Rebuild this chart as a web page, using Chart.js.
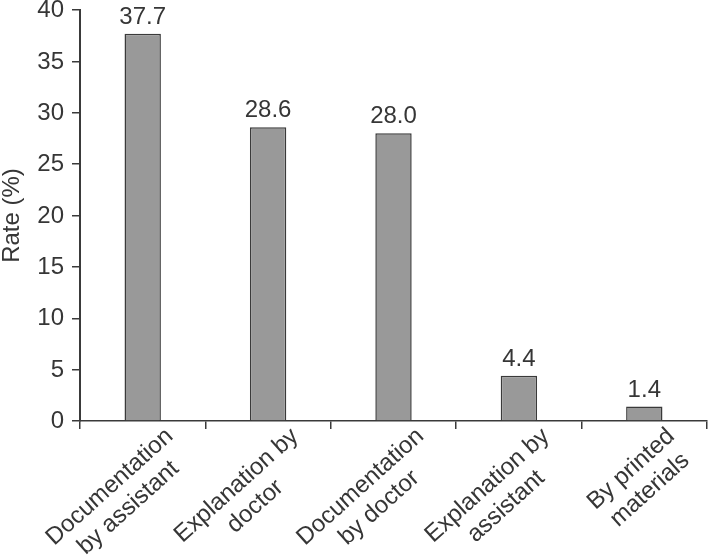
<!DOCTYPE html>
<html>
<head>
<meta charset="utf-8">
<script src="https://cdn.jsdelivr.net/npm/chart.js@4/dist/chart.umd.min.js"></script>
<style>
  html, body { margin: 0; padding: 0; background: #fff; }
  #wrap { width: 709px; height: 559px; }
</style>
</head>
<body>
<div id="wrap"><canvas id="rateChart"></canvas></div>
<script>
var categories = [
  ["Documentation", "by assistant"],
  ["Explanation by", "doctor"],
  ["Documentation", "by doctor"],
  ["Explanation by", "assistant"],
  ["By printed", "materials"]
];
var rates = [37.7, 28.6, 28.0, 4.4, 1.4];
var yTicks = [0, 5, 10, 15, 20, 25, 30, 35, 40];
var yTitle = "Rate (%)";

var textColor = "#363636";
var lineColor = "#3a3a3a";
var font = "24px 'Liberation Sans', Arial, sans-serif";
var labelAngle = 42 * Math.PI / 180;

// all text is drawn here, placed through the chart's own scales
var textLayer = {
  id: "textLayer",
  afterDraw: function (chart) {
    var c = chart.ctx;
    var xs = chart.scales.x;
    var ys = chart.scales.y;
    var area = chart.chartArea;
    c.save();
    c.font = font;
    c.fillStyle = textColor;

    // y tick labels
    c.textAlign = "right";
    c.textBaseline = "middle";
    yTicks.forEach(function (v) {
      c.fillText(String(v), ys.left - 8, ys.getPixelForValue(v) + 0.5);
    });

    // y title
    c.save();
    c.translate(12, (area.top + area.bottom) / 2);
    c.rotate(-Math.PI / 2);
    c.textAlign = "center";
    c.textBaseline = "middle";
    c.fillText(yTitle, 0, 0);
    c.restore();

    // values above bars
    var meta = chart.getDatasetMeta(0);
    c.textAlign = "center";
    c.textBaseline = "alphabetic";
    meta.data.forEach(function (bar, i) {
      c.fillText(rates[i].toFixed(1), bar.x, bar.y - 10);
    });

    // rotated category labels, lines centred on each other
    c.textBaseline = "middle";
    categories.forEach(function (lines, i) {
      var w = 0;
      lines.forEach(function (s) { w = Math.max(w, c.measureText(s).width); });
      c.save();
      c.translate(xs.getPixelForValue(i) + 27, area.bottom + 12);
      c.rotate(-labelAngle);
      lines.forEach(function (s, k) {
        c.fillText(s, -w / 2, k * 28);
      });
      c.restore();
    });
    c.restore();
  }
};

var ctx = document.getElementById("rateChart").getContext("2d");
new Chart(ctx, {
  type: "bar",
  data: {
    labels: categories,
    datasets: [
      {
        label: "Rate",
        data: rates,
        backgroundColor: "#999999",
        borderColor: "#3a3a3a",
        borderWidth: 1.5,
        barPercentage: 0.29,
        categoryPercentage: 1
      }
    ]
  },
  options: {
    responsive: true,
    maintainAspectRatio: false,
    animation: false,
    layout: { padding: { top: 10, right: 2, left: 72, bottom: 130 } },
    plugins: {
      legend: { display: false },
      tooltip: { enabled: false }
    },
    scales: {
      x: {
        grid: {
          offset: true,
          drawOnChartArea: false,
          drawTicks: true,
          tickLength: 8,
          color: lineColor,
          lineWidth: 1.5
        },
        border: { color: lineColor, width: 1.5 },
        ticks: { display: false }
      },
      y: {
        min: 0,
        max: 40,
        afterBuildTicks: function (axis) {
          axis.ticks = yTicks.map(function (v) { return { value: v }; });
        },
        grid: {
          drawOnChartArea: false,
          drawTicks: true,
          tickLength: 8,
          color: lineColor,
          lineWidth: 1.5
        },
        border: { color: lineColor, width: 2 },
        ticks: { display: false }
      }
    }
  },
  plugins: [textLayer]
});
</script>
</body>
</html>
